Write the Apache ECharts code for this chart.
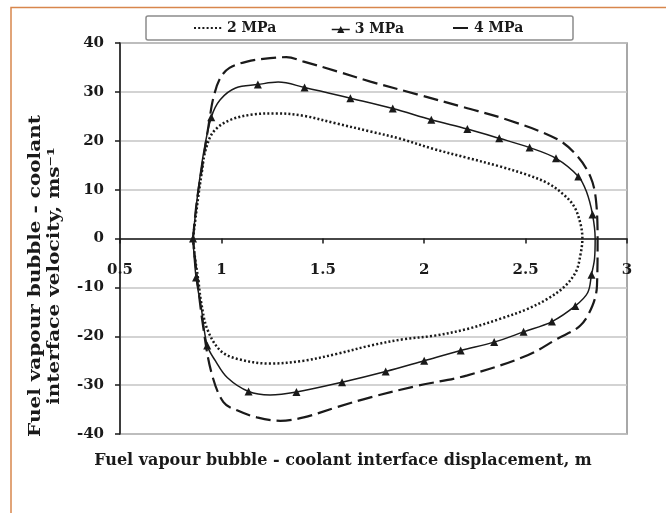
<!DOCTYPE html>
<html>
<head>
<meta charset="utf-8">
<script src="https://cdn.jsdelivr.net/npm/echarts@6/dist/echarts.min.js"></script>
<style>
  html, body { margin: 0; padding: 0; background: #ffffff; }
  #chart { width: 666px; height: 513px; }
</style>
</head>
<body>
<div id="chart"></div>
<script>
// Phase-plane loops: interface displacement (m) vs interface velocity (m/s)

// 2 MPa loop (dotted)
const disp2 = [0.86, 0.875, 0.887, 0.905, 0.92, 0.96, 1.04, 1.16, 1.27, 1.406, 1.57, 1.735, 1.883, 2.048, 2.213, 2.377, 2.51, 2.61, 2.69, 2.74, 2.77, 2.78,
               2.77, 2.748, 2.69, 2.61, 2.51, 2.377, 2.213, 2.048, 1.9, 1.735, 1.57, 1.406, 1.24, 1.076, 0.994, 0.93, 0.9, 0.885, 0.87, 0.86];
const vel2  = [0, 5, 8.9, 14, 17.8, 21.8, 24.2, 25.4, 25.6, 25.1, 23.5, 21.9, 20.4, 18.3, 16.5, 14.7, 13.0, 11.3, 8.9, 6.5, 3.1, 0,
               -3.4, -6.8, -9.9, -12.3, -14.4, -16.4, -18.5, -19.9, -20.6, -21.9, -23.6, -25.0, -25.6, -24.6, -22.9, -18.5, -13, -8.2, -4, 0];

// 3 MPa loop (solid with triangles); tri3 flags the sampled points drawn as triangles
const disp3 = [0.86, 0.88, 0.91, 0.95, 0.994, 1.07, 1.18, 1.28, 1.41, 1.636, 1.845, 2.035, 2.213, 2.37, 2.52, 2.65, 2.76, 2.80, 2.83, 2.843,
               2.84, 2.825, 2.806, 2.745, 2.63, 2.49, 2.345, 2.18, 2.0, 1.81, 1.595, 1.37, 1.24, 1.134, 1.03, 0.97, 0.93, 0.9, 0.875, 0.86];
const vel3  = [0, 8, 17, 24.8, 28.4, 30.8, 31.5, 32.0, 30.9, 28.7, 26.6, 24.3, 22.4, 20.5, 18.6, 16.4, 12.7, 9.6, 4.9, 0,
               -4.1, -7.4, -11.1, -13.8, -17.0, -19.1, -21.2, -22.9, -25.0, -27.2, -29.4, -31.4, -32.0, -31.3, -28.5, -25.0, -21.9, -14, -8, 0];
const tri3  = [1, 0, 0, 1, 0, 0, 1, 0, 1, 1, 1, 1, 1, 1, 1, 1, 1, 0, 1, 0,
               0, 1, 0, 1, 1, 1, 1, 1, 1, 1, 1, 1, 0, 1, 0, 0, 1, 0, 1, 0];

// 4 MPa loop (dashed)
const disp4 = [0.86, 0.88, 0.91, 0.94, 0.96, 0.994, 1.04, 1.126, 1.24, 1.32, 1.406, 1.57, 1.735, 1.965, 2.2, 2.41, 2.657, 2.756, 2.82, 2.846, 2.855,
               2.852, 2.83, 2.77, 2.657, 2.51, 2.213, 1.96, 1.735, 1.57, 1.406, 1.29, 1.175, 1.08, 1.01, 0.95, 0.91, 0.88, 0.86];
const vel4  = [0, 8, 16, 24, 28.7, 32.8, 34.9, 36.2, 36.9, 37.1, 36.2, 34.2, 32.1, 29.5, 26.8, 24.3, 20.3, 16.8, 12.6, 8.2, 0,
               -9.6, -13.7, -17.8, -20.5, -23.9, -28.0, -30.2, -32.5, -34.5, -36.6, -37.3, -36.6, -35.2, -33.5, -27.3, -18, -8, 0];

const seriesNames = ['2 MPa', '3 MPa', '4 MPa'];
const xTicks = { min: 0.5, max: 3, step: 0.5 };
const yTicks = { min: -40, max: 40, step: 10 };

const pairs = (xs, ys) => xs.map((x, i) => [x, ys[i]]);

const serif = 'DejaVu Serif';
const ink = '#1a1a1a';

const gridBox = { left: 120, right: 39, top: 43, bottom: 79 };
const plotH = 513 - gridBox.top - gridBox.bottom;
// shift the x axis up from the grid bottom onto the v = 0 line
const zeroOffset = -plotH * (0 - yTicks.min) / (yTicks.max - yTicks.min);

const chart = echarts.init(document.getElementById('chart'), null, { renderer: 'canvas' });

const data3 = disp3.map((x, i) => tri3[i]
  ? { value: [x, vel3[i]] }
  : { value: [x, vel3[i]], symbol: 'none' });

const legendText = { fontFamily: serif, fontWeight: 'bold', fontSize: 14, color: ink };
const noSymbol = { color: 'transparent', borderColor: 'transparent', borderWidth: 0 };

chart.setOption({
  animation: false,
  backgroundColor: '#ffffff',
  grid: Object.assign({}, gridBox, {
    show: true, borderColor: '#8c8c8c', borderWidth: 1.5, backgroundColor: 'transparent'
  }),
  graphic: [
    // outer page frame
    { type: 'rect', z: -1, shape: { x: 11, y: 7.5, width: 700, height: 600 },
      style: { fill: 'none', stroke: '#d8864c', lineWidth: 1.5 } },
    // legend box
    { type: 'rect', z: 0, shape: { x: 146, y: 16, width: 427, height: 24, r: 2 },
      style: { fill: '#ffffff', stroke: '#8c8c8c', lineWidth: 1.5 } },
    // axis titles
    { type: 'text', x: 343, y: 461, style: {
        text: 'Fuel vapour bubble - coolant interface displacement, m',
        font: 'bold 16px "DejaVu Serif"', fill: ink, align: 'center', verticalAlign: 'middle' } },
    { type: 'text', x: 45, y: 276, rotation: Math.PI / 2, scaleX: 1.25, style: {
        text: 'Fuel vapour bubble - coolant\ninterface velocity, ms\u207B\u00B9',
        font: 'bold 16px "DejaVu Serif"', fill: ink, align: 'center', verticalAlign: 'middle', lineHeight: 19 } }
  ],
  legend: [
    { data: [seriesNames[0]], left: 193, top: 21, padding: 0, itemWidth: 28, itemHeight: 14, itemGap: 0,
      textStyle: legendText, itemStyle: noSymbol, z: 5 },
    // small item height keeps the triangle compact so the line shows on both sides
    { data: [seriesNames[1]], left: 331, top: 22.5, padding: 0, itemWidth: 18, itemHeight: 9, itemGap: 0,
      itemStyle: { color: ink }, lineStyle: { width: 1.5 },
      textStyle: legendText, z: 5 },
    { data: [seriesNames[2]], left: 452, top: 21, padding: 0, itemWidth: 16, itemHeight: 14, itemGap: 0,
      textStyle: legendText, itemStyle: noSymbol, z: 5 }
  ],
  xAxis: {
    type: 'value', min: xTicks.min, max: xTicks.max, interval: xTicks.step,
    position: 'bottom', offset: zeroOffset,
    axisLine: { onZero: false, lineStyle: { color: ink, width: 1.5 } },
    axisTick: { show: true, inside: false, length: 5, lineStyle: { color: ink, width: 1.5 } },
    axisLabel: { margin: 24, fontFamily: serif, fontWeight: 'bold', fontSize: 15, color: ink },
    splitLine: { show: false }
  },
  yAxis: {
    type: 'value', min: yTicks.min, max: yTicks.max, interval: yTicks.step,
    axisLine: { show: true, onZero: false, lineStyle: { color: ink, width: 1.5 } },
    axisTick: { show: true, inside: false, length: 5, lineStyle: { color: ink, width: 1.5 } },
    axisLabel: { margin: 16, fontFamily: serif, fontWeight: 'bold', fontSize: 15, color: ink },
    splitLine: { show: true, lineStyle: { color: '#c4c4c4', width: 1.5 } }
  },
  series: [
    {
      name: seriesNames[0], type: 'line', data: pairs(disp2, vel2),
      smooth: 0.35, symbol: 'none', z: 3,
      lineStyle: { color: ink, width: 2.5, type: [2, 2.2] },
      itemStyle: { color: ink }
    },
    {
      name: seriesNames[1], type: 'line', data: data3,
      smooth: 0.35, symbol: 'triangle', symbolSize: 8, showSymbol: true, z: 4,
      lineStyle: { color: ink, width: 1.5, type: 'solid' },
      itemStyle: { color: ink }
    },
    {
      name: seriesNames[2], type: 'line', data: pairs(disp4, vel4),
      smooth: 0.35, symbol: 'none', z: 3,
      lineStyle: { color: ink, width: 2.2, type: [15, 6] },
      itemStyle: { color: ink }
    }
  ]
});
</script>
</body>
</html>
